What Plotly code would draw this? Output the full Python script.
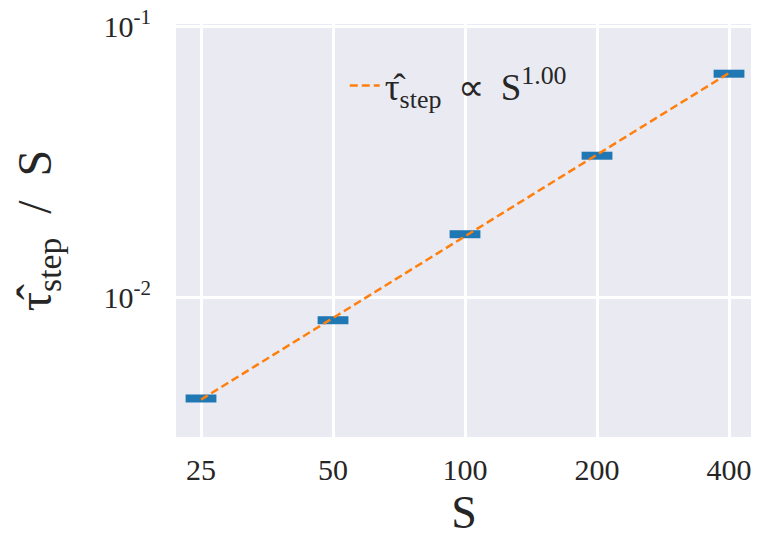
import plotly.graph_objects as go

# data
S_vals = [25, 50, 100, 200, 400]
tau_step = [0.00424, 0.00824, 0.0171, 0.0333, 0.0668]
fit_vals = [0.00420, 0.00840, 0.0168, 0.0336, 0.0672]
x_ticks = [25, 50, 100, 200, 400]
x_ticklabels = ["25", "50", "100", "200", "400"]
y_ticks = [0.01, 0.1]
y_ticklabels = ["10<sup>-2</sup>", "10<sup>-1</sup>"]

FONT = "Liberation Serif"
fig = go.Figure()

fig.add_trace(go.Scatter(
    x=S_vals, y=tau_step, mode="markers", showlegend=False,
    marker=dict(symbol="line-ew", size=22, color="#1f77b4",
                line=dict(color="#1f77b4", width=8)),
))
fig.add_trace(go.Scatter(
    x=S_vals, y=fit_vals, mode="lines",
    name="τ\u0302<sub>step</sub>\u2009 ∝ \u2009S<sup>1.00</sup>",
    line=dict(color="#ff7f0e", width=2.5, dash="8px,4px"),
))

fig.update_layout(
    width=751, height=530,
    margin=dict(l=168, r=7, t=16, b=101, autoexpand=False),
    paper_bgcolor="white", plot_bgcolor="#EAEAF2",
    font=dict(family=FONT, size=26, color="#262626"),
    legend=dict(x=0.49, y=0.85, xanchor="center", yanchor="middle",
                bgcolor="rgba(0,0,0,0)", font=dict(size=37, family=FONT)),
)
fig.update_xaxes(
    type="log", range=[1.3409, 2.6545], automargin=False,
    tickmode="array", tickvals=x_ticks, ticktext=x_ticklabels,
    showgrid=True, gridcolor="white", gridwidth=2.5, zeroline=False,
    showline=False, ticks="", ticklabelstandoff=12, ticklabeloverflow="allow",
    tickfont=dict(size=30, family=FONT, color="#262626"),
    title=dict(text="S", font=dict(size=46, family=FONT, color="#262626"), standoff=12),
)
fig.update_yaxes(
    type="log", range=[-2.5146, -0.992], automargin=False,
    tickmode="array", tickvals=y_ticks, ticktext=y_ticklabels,
    showgrid=True, gridcolor="white", gridwidth=2.5, zeroline=False,
    showline=False, ticks="", ticklabelstandoff=24, ticklabeloverflow="allow",
    tickfont=dict(size=30, family=FONT, color="#262626"),
    title=dict(text="τ\u0302<sub>step</sub>  /  S", font=dict(size=48, family=FONT, color="#262626"), standoff=40),
)

fig.write_html("out.html")
